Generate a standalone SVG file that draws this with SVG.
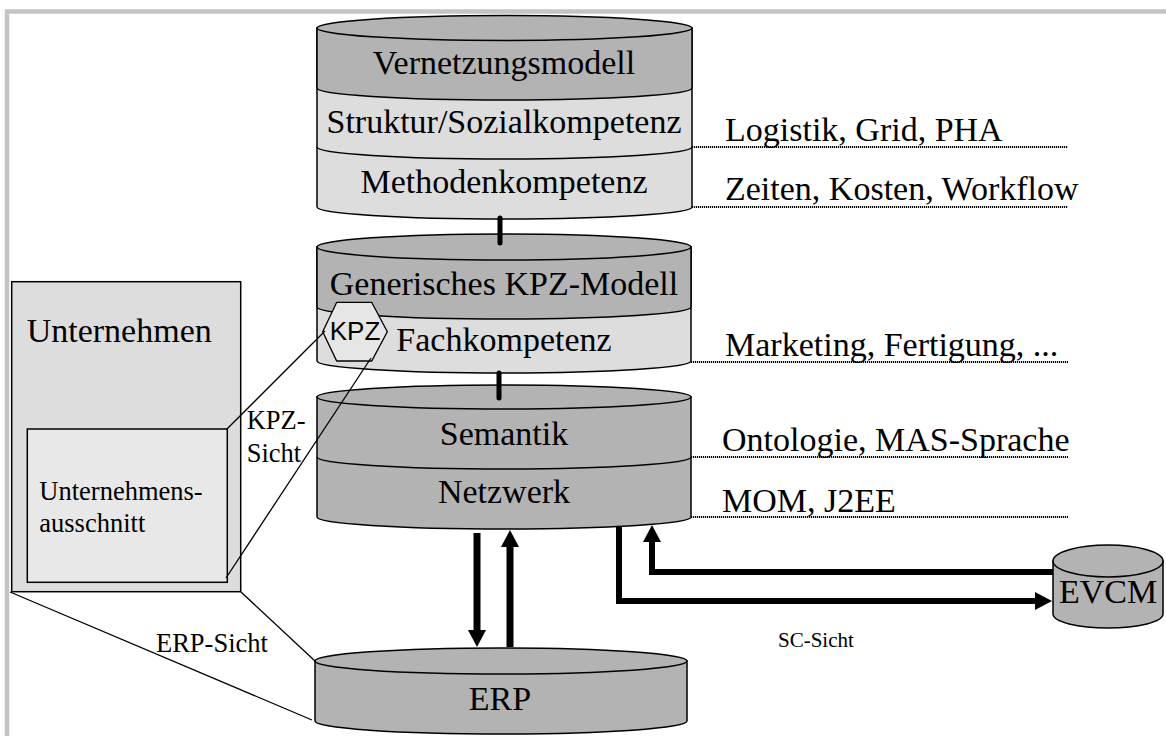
<svg xmlns="http://www.w3.org/2000/svg" width="1166" height="736" viewBox="0 0 1166 736">
<style>
.t{font-family:"Liberation Serif","Times New Roman",serif;fill:#000}
.big{font-size:34px}
.mid{font-size:26.5px}
.c{text-anchor:middle}
.dark{fill:#b3b3b3;stroke:#000;stroke-width:1.5}
.light{fill:#dddddd;stroke:#000;stroke-width:1.5}
.edge{fill:none;stroke:#000;stroke-width:1.5}
.thin{fill:none;stroke:#000;stroke-width:1.3}
.dot{fill:none;stroke:#000;stroke-width:2;stroke-dasharray:1.2 0.8}
.thick{fill:none;stroke:#000;stroke-width:6}
</style>
<defs>
<marker id="ah" markerUnits="userSpaceOnUse" markerWidth="18" markerHeight="18" viewBox="0 -9 18 18" refX="0" refY="0" orient="auto">
<path d="M0,-9 L17,0 L0,9 Z" fill="#000"/>
</marker>
</defs>
<rect x="0" y="0" width="1166" height="736" fill="#fff"/>
<path d="M7,736 V11.5 H1166" fill="none" stroke="#c4c4c4" stroke-width="4.5"/>

<g id="vernetzungsmodell">
<path class="light" d="M317,28 V207 A187.5,12 0 0 0 692,207 V28 Z"/>
<path class="dark" d="M317,28 V88 A187.5,12 0 0 0 692,88 V28 Z"/>
<ellipse class="dark" cx="504.5" cy="28" rx="187.5" ry="12.5"/>
<path class="edge" d="M317,147 A187.5,12 0 0 0 692,147"/>
<text class="t big c" x="504" y="74">Vernetzungsmodell</text>
<text class="t big c" x="504" y="133">Struktur/Sozialkompetenz</text>
<text class="t big c" x="504" y="193">Methodenkompetenz</text>
</g>

<g id="kpz-modell">
<path class="light" d="M317,247 V361 A187,12 0 0 0 691,361 V247 Z"/>
<path class="dark" d="M317,247 V307 A187,12 0 0 0 691,307 V247 Z"/>
<ellipse class="dark" cx="504" cy="247" rx="187" ry="13"/>
<text class="t big c" x="504" y="295">Generisches KPZ-Modell</text>
<text class="t big c" x="504" y="351">Fachkompetenz</text>
</g>

<g id="kpz">
<polygon points="336.7,302.3 371.7,302.3 387.3,331.7 371.7,361 336.7,361 322.7,331.7" fill="#e6e6e6" stroke="#000" stroke-width="1.3"/>
<text x="355" y="340" font-family="'Liberation Sans',Arial,sans-serif" font-size="26" text-anchor="middle">KPZ</text>
</g>

<g id="kommunikation">
<path class="dark" d="M317,397 V517 A187,12 0 0 0 691,517 V397 Z"/>
<ellipse class="dark" cx="504" cy="397" rx="187" ry="12"/>
<path class="edge" d="M317,457 A187,12 0 0 0 691,457"/>
<text class="t big c" x="504" y="445">Semantik</text>
<text class="t big c" x="504" y="503">Netzwerk</text>
</g>

<g id="erp">
<path class="dark" d="M315,661 V721 A186,13 0 0 0 687,721 V661 Z"/>
<ellipse class="dark" cx="501" cy="661" rx="186" ry="13"/>
<text class="t big c" x="500" y="710">ERP</text>
</g>

<g id="evcm">
<path class="dark" d="M1053,561 V614 A55,14 0 0 0 1163,614 V561 Z"/>
<ellipse class="dark" cx="1108" cy="561" rx="55" ry="16"/>
<text class="t big c" x="1108" y="603">EVCM</text>
</g>

<g id="unternehmen">
<rect x="11.7" y="281.7" width="229" height="310" fill="#dddddd" stroke="#000" stroke-width="1.5"/>
<text class="t big" x="26.7" y="341.7">Unternehmen</text>
</g>

<g id="unternehmensausschnitt">
<rect x="27.3" y="429" width="200" height="153.3" fill="#e8e8e8" stroke="#000" stroke-width="1.5"/>
<text class="t mid" x="39.3" y="500">Unternehmens-</text>
<text class="t mid" x="39.3" y="531.7">ausschnitt</text>
</g>

<g id="labels">
<text class="t big" x="725" y="141">Logistik, Grid, PHA</text>
<text class="t big" x="725" y="200">Zeiten, Kosten, Workflow</text>
<text class="t big" x="725" y="356">Marketing, Fertigung, ...</text>
<text class="t big" x="722" y="451">Ontologie, MAS-Sprache</text>
<text class="t big" x="722" y="512">MOM, J2EE</text>
<text class="t mid" x="246.7" y="429.3">KPZ-</text>
<text class="t mid" x="246.7" y="461.7">Sicht</text>
<text class="t mid" x="156" y="652.3">ERP-Sicht</text>
<text class="t" font-size="21" x="778" y="647">SC-Sicht</text>
</g>

<g id="connectors">
<line x1="500" y1="218" x2="500" y2="243" stroke="#000" stroke-width="5" stroke-linecap="round"/>
<line x1="499" y1="373" x2="499" y2="398" stroke="#000" stroke-width="5" stroke-linecap="round"/>
<line class="thin" x1="227" y1="429" x2="325" y2="331"/>
<line class="thin" x1="226" y1="578" x2="371" y2="358"/>
<line class="thin" x1="10" y1="592" x2="312" y2="720"/>
<line class="thin" x1="241" y1="592" x2="315" y2="661"/>
<line class="dot" x1="692" y1="147" x2="1068" y2="147"/>
<line class="dot" x1="692" y1="207" x2="1068" y2="207"/>
<line class="dot" x1="691" y1="362" x2="1068" y2="362"/>
<line class="dot" x1="691" y1="457" x2="1068" y2="457"/>
<line class="dot" x1="691" y1="517" x2="1068" y2="517"/>
<path d="M477,533 V630" stroke="#000" stroke-width="7" fill="none" marker-end="url(#ah)"/>
<path d="M510,647 V547" stroke="#000" stroke-width="7" fill="none" marker-end="url(#ah)"/>
<path class="thick" d="M619,526 V601 H1035" marker-end="url(#ah)"/>
<path class="thick" d="M1053,572 H652 V542" marker-end="url(#ah)"/>
</g>
</svg>
